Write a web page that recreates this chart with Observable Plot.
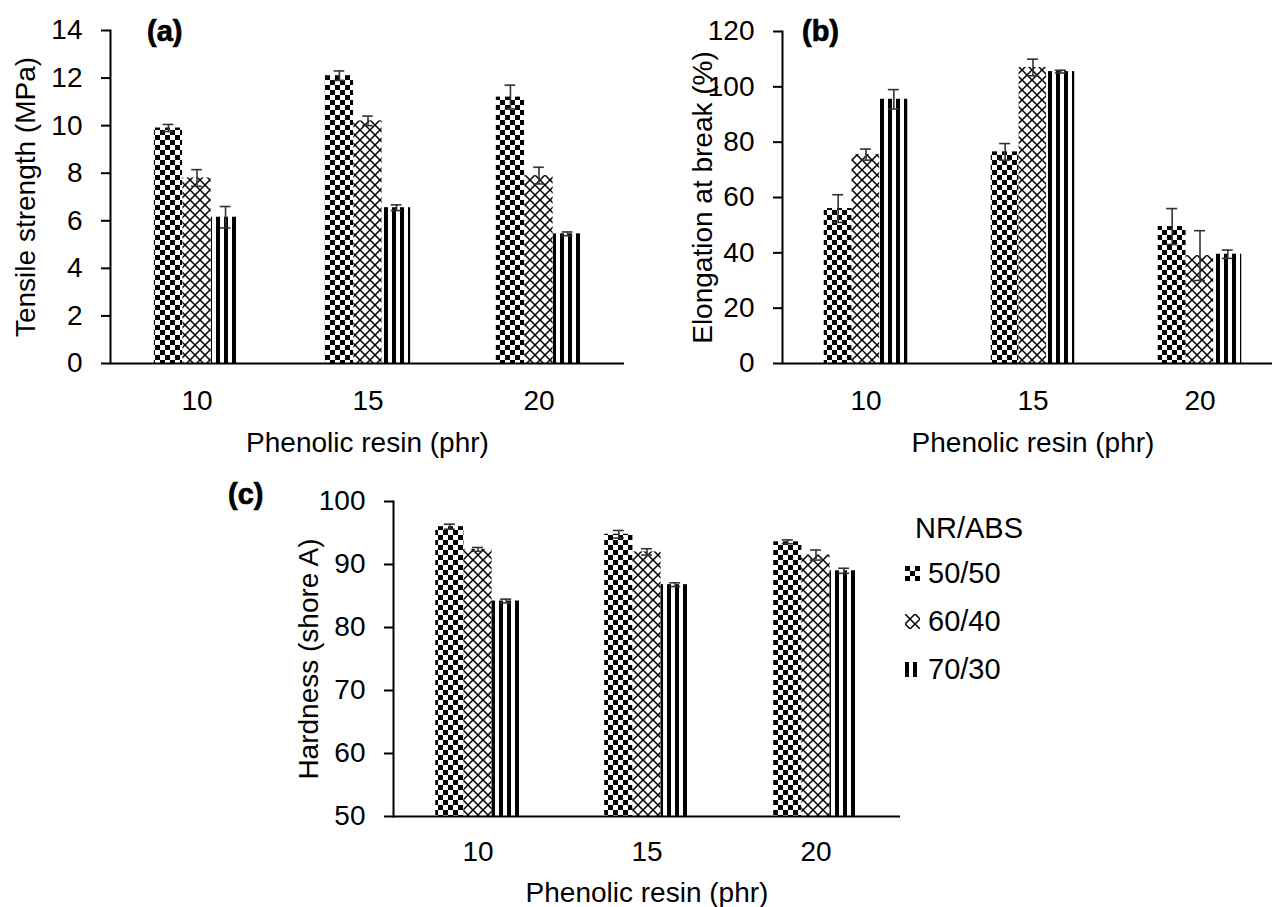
<!DOCTYPE html>
<html><head><meta charset="utf-8">
<script src="https://cdn.jsdelivr.net/npm/d3@7"></script>
<script src="https://cdn.jsdelivr.net/npm/@observablehq/plot@0.6"></script>
<style>
body{margin:0;background:#fff;}
#root{position:relative;width:1272px;height:907px;overflow:hidden;background:#fff;font-family:"Liberation Sans",Arial,sans-serif;color:#000;}
.panel{position:absolute;}
.tag{position:absolute;font-weight:bold;font-size:29px;line-height:29px;-webkit-text-stroke:0.7px #000;}
.lg{position:absolute;font-size:29px;line-height:29px;white-space:nowrap;}
.sw{position:absolute;}
</style></head><body>
<svg width="0" height="0" style="position:absolute">
<defs>
<pattern id="pChecker" patternUnits="userSpaceOnUse" width="10" height="10"><rect width="10" height="10" fill="#fff"/><rect width="5" height="5" fill="#000"/><rect x="5" y="5" width="5" height="5" fill="#000"/></pattern>
<pattern id="pCross" patternUnits="userSpaceOnUse" width="10" height="10"><rect width="10" height="10" fill="#fff"/><path d="M0,0L10,10M10,0L0,10" stroke="#000" stroke-width="1.5"/></pattern>
<pattern id="pStripe" patternUnits="userSpaceOnUse" width="8" height="8"><rect width="8" height="8" fill="#fff"/><rect width="4" height="8" fill="#000"/></pattern>
</defs></svg>
<div id="root"></div>
<script>
// ---- data ----
const phr = ["10", "15", "20"];
const series = ["50/50", "60/40", "70/30"];
const legendTitle = "NR/ABS";
const xTitle = "Phenolic resin (phr)";

const tensile5050 = [9.9, 12.1, 11.2];
const tensile6040 = [7.8, 10.2, 7.9];
const tensile7030 = [6.15, 6.55, 5.45];
const tensileErr5050 = [0.15, 0.2, 0.5];
const tensileErr6040 = [0.35, 0.2, 0.35];
const tensileErr7030 = [0.45, 0.12, 0.08];

const elong5050 = [56, 76.5, 49.5];
const elong6040 = [75.5, 107, 39];
const elong7030 = [95.5, 105.5, 39.5];
const elongErr5050 = [5, 3, 6.5];
const elongErr6040 = [2, 3, 9];
const elongErr7030 = [3.5, 0.5, 1.5];

const hard5050 = [96, 94.8, 93.6];
const hard6040 = [92.4, 92.0, 91.5];
const hard7030 = [84.2, 86.8, 89.0];
const hardErr5050 = [0.4, 0.6, 0.3];
const hardErr6040 = [0.3, 0.5, 0.8];
const hardErr7030 = [0.3, 0.3, 0.4];

const tensileTicks = [0, 2, 4, 6, 8, 10, 12, 14];
const elongTicks = [0, 20, 40, 60, 80, 100, 120];
const hardTicks = [50, 60, 70, 80, 90, 100];

// ---- styles ----
const fills = ["url(#pChecker)", "url(#pCross)", "url(#pStripe)"];
const FONT = '"Liberation Sans", Arial, sans-serif';
const root = document.getElementById("root");

function panel(cfg) {
  const {values, errs, yDomain, yTicks, yLabel, plotW, left, top, svgH, mTop, mBottom, yLabelOffset, xPad, xLabelOffset} = cfg;
  const mLeft = 110, mRight = 10;
  const step = plotW / 3, bw = step * 0.5 / 3, off = step * 0.25, cap = 5.5;
  const marks = [];
  series.forEach((s, k) => {
    const rows = phr.map((p, i) => ({phr: p, base: yDomain[0], value: values[k][i], err: errs[k][i]}));
    const l = off + k * bw, r = step - (off + (k + 1) * bw), c = off + (k + 0.5) * bw;
    marks.push(Plot.barY(rows, {x: "phr", y1: "base", y2: "value", fill: fills[k], insetLeft: l, insetRight: r}));
    marks.push(Plot.ruleX(rows, {x: "phr", y1: d => d.value - d.err, y2: d => d.value + d.err, dx: c - step / 2, stroke: "#333", strokeWidth: 1.6}));
    marks.push(Plot.tickY(rows, {x: "phr", y: d => d.value + d.err, insetLeft: c - cap, insetRight: step - c - cap, stroke: "#333", strokeWidth: 1.6}));
    marks.push(Plot.tickY(rows, {x: "phr", y: d => d.value - d.err, insetLeft: c - cap, insetRight: step - c - cap, stroke: "#333", strokeWidth: 1.6}));
  });
  marks.push(Plot.ruleY([yDomain[0]], {strokeWidth: 2}));
  marks.push(Plot.frame({anchor: "left", strokeWidth: 2}));
  marks.push(Plot.axisY({ticks: yTicks, tickSize: 9, tickPadding: 19, strokeWidth: 2, label: yLabel, labelAnchor: "center", labelOffset: yLabelOffset, labelArrow: "none"}));
  marks.push(Plot.axisX({tickSize: 0, tickPadding: xPad, label: xTitle, labelAnchor: "center", labelOffset: xLabelOffset, labelArrow: "none"}));
  const svg = Plot.plot({
    width: mLeft + plotW + mRight, height: svgH,
    marginLeft: mLeft, marginRight: mRight, marginTop: mTop, marginBottom: mBottom,
    x: {domain: phr, padding: 0},
    y: {domain: yDomain},
    style: {fontSize: "28px", fontFamily: FONT, background: "transparent", color: "#000", overflow: "visible"},
    marks
  });
  svg.classList.add("panel");
  svg.style.left = left + "px";
  svg.style.top = top + "px";
  svg.style.maxWidth = "none";
  root.appendChild(svg);
}

panel({values: [tensile5050, tensile6040, tensile7030], errs: [tensileErr5050, tensileErr6040, tensileErr7030],
  yDomain: [0, 14], yTicks: tensileTicks, yLabel: "Tensile strength (MPa)", plotW: 514, left: 0, top: 0, svgH: 470, mTop: 30, mBottom: 107, yLabelOffset: 95, xPad: 27, xLabelOffset: 88});
panel({values: [elong5050, elong6040, elong7030], errs: [elongErr5050, elongErr6040, elongErr7030],
  yDomain: [0, 120], yTicks: elongTicks, yLabel: "Elongation at break (%)", plotW: 501, left: 672, top: 0, svgH: 470, mTop: 31, mBottom: 107, yLabelOffset: 90, xPad: 27, xLabelOffset: 88});
panel({values: [hard5050, hard6040, hard7030], errs: [hardErr5050, hardErr6040, hardErr7030],
  yDomain: [50, 100], yTicks: hardTicks, yLabel: "Hardness (shore A)", plotW: 507, left: 283, top: 460, svgH: 447, mTop: 41, mBottom: 91, yLabelOffset: 95, xPad: 25, xLabelOffset: 85});

// panel tags
[["(a)", 147, 17], ["(b)", 802, 17], ["(c)", 228, 480]].forEach(([t, x, y]) => {
  const d = document.createElement("div");
  d.className = "tag"; d.textContent = t; d.style.left = x + "px"; d.style.top = y + "px";
  root.appendChild(d);
});

// legend
const lt = document.createElement("div");
lt.className = "lg"; lt.textContent = legendTitle; lt.style.left = "915px"; lt.style.top = "514px";
root.appendChild(lt);
series.forEach((s, k) => {
  const cy = 573 + k * 48;
  const sw = document.createElementNS("http://www.w3.org/2000/svg", "svg");
  sw.setAttribute("class", "sw"); sw.setAttribute("width", 15); sw.setAttribute("height", 15);
  sw.style.left = "905px"; sw.style.top = (cy - 7.5) + "px";
  const r = document.createElementNS("http://www.w3.org/2000/svg", "rect");
  r.setAttribute("width", 15); r.setAttribute("height", 15); r.setAttribute("fill", fills[k]);
  sw.appendChild(r); root.appendChild(sw);
  const t = document.createElement("div");
  t.className = "lg"; t.textContent = s; t.style.left = "928px"; t.style.top = (cy - 14) + "px";
  root.appendChild(t);
});
</script>
</body></html>
